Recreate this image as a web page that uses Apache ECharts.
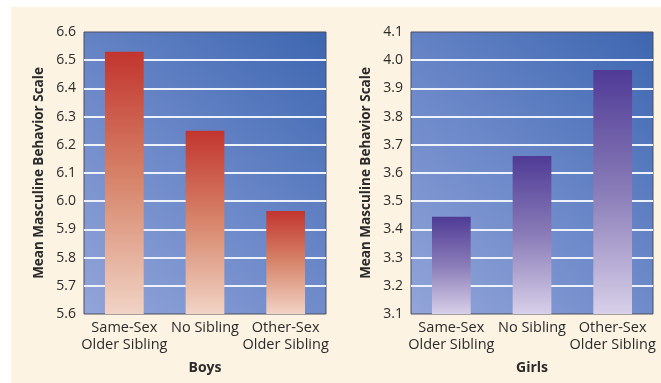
<!DOCTYPE html>
<html>
<head>
<meta charset="utf-8">
<script src="https://cdn.jsdelivr.net/npm/echarts@6/dist/echarts.min.js"></script>
<style>
  html, body { margin: 0; padding: 0; background: #ffffff; }
  #chart { width: 661px; height: 383px; }
</style>
</head>
<body>
<div id="chart"></div>
<script>
// Category labels shared by both panels
const categories = ['Same-Sex\nOlder Sibling', 'No Sibling', 'Other-Sex\nOlder Sibling'];

// Mean masculine behavior scores
const boysValues = [6.53, 6.25, 5.965];
const girlsValues = [3.445, 3.66, 3.965];

// Y-axis ranges
const boysRange = [5.6, 6.6];
const girlsRange = [3.1, 4.1];

const panelTitles = ['Boys', 'Girls'];
const yTitle = 'Mean Masculine Behavior Scale';

const FONT = 'Open Sans';

const chart = echarts.init(document.getElementById('chart'), null, { renderer: 'canvas' });

const plotFill = new echarts.graphic.LinearGradient(0, 1, 1, 0, [
  { offset: 0, color: '#93a5d9' },
  { offset: 0.5, color: '#6a87c8' },
  { offset: 1, color: '#3d66b0' }
]);

const redFill = new echarts.graphic.LinearGradient(0, 0, 0, 1, [
  { offset: 0, color: '#c2352e' },
  { offset: 0.5, color: '#d7866c' },
  { offset: 1, color: '#f1d3c5' }
]);

const purpleFill = new echarts.graphic.LinearGradient(0, 0, 0, 1, [
  { offset: 0, color: '#4f3b96' },
  { offset: 0.5, color: '#8a7cb8' },
  { offset: 1, color: '#d8d0e9' }
]);

function gridDef(left, right) {
  return {
    left: left, right: right, top: 32, bottom: 69,
    show: true,
    backgroundColor: plotFill,
    borderColor: '#4a4f5c',
    borderWidth: 1
  };
}

function xAxisDef(idx) {
  return {
    type: 'category',
    gridIndex: idx,
    data: categories,
    name: panelTitles[idx],
    nameLocation: 'middle',
    nameGap: 47,
    nameTextStyle: { fontFamily: FONT, fontSize: 14, fontWeight: 'bold', color: '#2b2b2b' },
    axisLine: { show: false },
    axisTick: { show: false },
    axisLabel: {
      interval: 0,
      fontFamily: FONT, fontSize: 14.5, color: '#2b2b2b',
      margin: 5, lineHeight: 17
    }
  };
}

function yAxisDef(idx, range) {
  return {
    type: 'value',
    gridIndex: idx,
    min: range[0], max: range[1], interval: 0.1,
    name: yTitle,
    nameLocation: 'middle',
    nameGap: 38,
    nameRotate: 90,
    nameTextStyle: { fontFamily: FONT, fontSize: 13.5, fontWeight: 'bold', color: '#2b2b2b' },
    axisLine: { show: false },
    axisTick: { show: false },
    axisLabel: {
      fontFamily: FONT, fontSize: 14, color: '#2b2b2b', margin: 8,
      formatter: v => v.toFixed(1)
    },
    splitLine: {
      show: true, showMinLine: false, showMaxLine: false,
      lineStyle: { color: '#eef2fa', width: 2 }
    }
  };
}

chart.setOption({
  animation: false,
  backgroundColor: '#ffffff',
  graphic: [{
    type: 'rect', z: -10, silent: true,
    shape: { x: 11, y: 7, width: 650, height: 376 },
    style: { fill: '#fcf3e3' }
  }],
  grid: [gridDef(84, 335), gridDef(411, 8)],
  xAxis: [xAxisDef(0), xAxisDef(1)],
  yAxis: [yAxisDef(0, boysRange), yAxisDef(1, girlsRange)],
  series: [
    {
      type: 'bar', xAxisIndex: 0, yAxisIndex: 0,
      data: boysValues, barWidth: '48%',
      itemStyle: { color: redFill }
    },
    {
      type: 'bar', xAxisIndex: 1, yAxisIndex: 1,
      data: girlsValues, barWidth: '48%',
      itemStyle: { color: purpleFill }
    }
  ]
});
</script>
</body>
</html>
